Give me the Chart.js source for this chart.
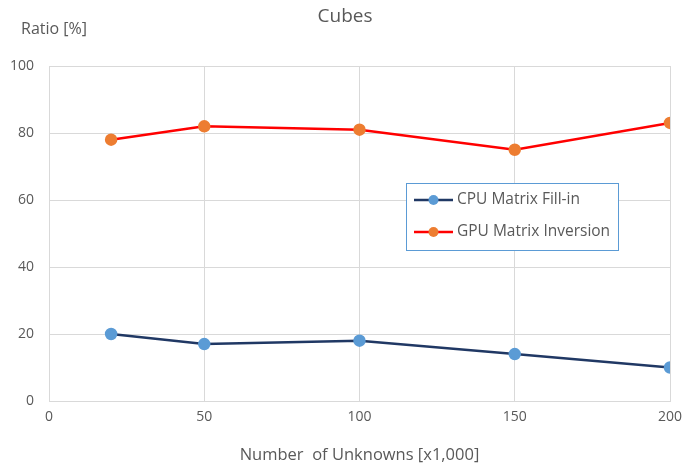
<!DOCTYPE html>
<html>
<head>
<meta charset="utf-8">
<script src="https://cdn.jsdelivr.net/npm/chart.js@4/dist/chart.umd.min.js"></script>
<style>
  html, body { margin: 0; padding: 0; background: #fff; }
  #wrap { width: 682px; height: 465px; position: relative; }
</style>
</head>
<body>
<div id="wrap"><canvas id="c"></canvas></div>
<script>
// Problem sizes (thousands of unknowns)
const unknowns = [20, 50, 100, 150, 200];
// Share of run time, percent
const cpuFillIn = [20, 17, 18, 14, 10];
const gpuInversion = [78, 82, 81, 75, 83];
const seriesNames = ['CPU Matrix Fill-in', 'GPU Matrix Inversion'];
const xTicks = [0, 50, 100, 150, 200];
const yTicks = [0, 20, 40, 60, 80, 100];

const FONT = '"Open Sans", "Liberation Sans", sans-serif';
const TEXT = '#595959';
const GRID = '#d9d9d9';

// Title, y-unit caption and boxed legend drawn on the canvas
const decorations = {
  id: 'decorations',
  afterDraw(chart) {
    const ctx = chart.ctx;
    ctx.save();
    ctx.fillStyle = TEXT;
    ctx.textBaseline = 'middle';
    ctx.textAlign = 'center';
    ctx.font = '19px ' + FONT;
    ctx.fillText('Cubes', 345, 17);
    ctx.textAlign = 'left';
    ctx.font = '16px ' + FONT;
    ctx.fillText('Ratio [%]', 21, 29);

    // legend box
    const bx = 406, by = 183, bw = 212, bh = 67;
    ctx.fillStyle = '#fff';
    ctx.fillRect(bx, by, bw, bh);
    ctx.strokeStyle = '#5b9bd5';
    ctx.lineWidth = 1;
    ctx.strokeRect(bx + 0.5, by + 0.5, bw, bh);
    chart.data.datasets.forEach((ds, i) => {
      const y = by + 17 + i * 32;
      ctx.strokeStyle = ds.borderColor;
      ctx.lineWidth = 2.5;
      ctx.beginPath();
      ctx.moveTo(414, y);
      ctx.lineTo(453, y);
      ctx.stroke();
      ctx.fillStyle = ds.pointBackgroundColor;
      ctx.beginPath();
      ctx.arc(433.5, y, 5, 0, Math.PI * 2);
      ctx.fill();
      ctx.fillStyle = TEXT;
      ctx.font = '15.5px ' + FONT;
      ctx.textAlign = 'left';
      ctx.fillText(ds.label, 457, y);
    });
    ctx.restore();
  }
};

const toPoints = (ys) => unknowns.map((x, i) => ({ x, y: ys[i] }));

new Chart(document.getElementById('c'), {
  type: 'line',
  data: {
    datasets: [
      {
        label: seriesNames[0],
        data: toPoints(cpuFillIn),
        borderColor: '#203864',
        backgroundColor: '#5b9bd5',
        pointBackgroundColor: '#5b9bd5',
        pointBorderColor: '#5b9bd5',
        borderWidth: 2.5,
        pointRadius: 5,
        tension: 0
      },
      {
        label: seriesNames[1],
        data: toPoints(gpuInversion),
        borderColor: '#ff0000',
        backgroundColor: '#ed7d31',
        pointBackgroundColor: '#ed7d31',
        pointBorderColor: '#ed7d31',
        borderWidth: 2.5,
        pointRadius: 5,
        tension: 0
      }
    ]
  },
  options: {
    responsive: true,
    maintainAspectRatio: false,
    animation: false,
    devicePixelRatio: 1,
    layout: { padding: { top: 66, right: 12, bottom: 0, left: 0 } },
    plugins: {
      legend: { display: false },
      title: { display: false },
      tooltip: { enabled: false }
    },
    scales: {
      x: {
        type: 'linear',
        min: 0,
        max: 200,
        afterBuildTicks(axis) { axis.ticks = xTicks.map(v => ({ value: v })); },
        afterFit(axis) {
          axis.height = 64;
          axis.paddingLeft = 0;
          axis.paddingRight = 0;
        },
        grid: { color: GRID, lineWidth: 1, drawTicks: false },
        border: { color: GRID, width: 1 },
        ticks: { color: TEXT, font: { family: FONT, size: 14 }, padding: 8, maxRotation: 0 },
        title: {
          display: true,
          text: 'Number  of Unknowns [x1,000]',
          color: TEXT,
          font: { family: FONT, size: 16.5 },
          padding: { top: 1, bottom: 0 }
        }
      },
      y: {
        min: 0,
        max: 100,
        afterBuildTicks(axis) { axis.ticks = yTicks.map(v => ({ value: v })); },
        afterFit(axis) { axis.width = 49; },
        grid: { color: GRID, lineWidth: 1, drawTicks: false },
        border: { display: false },
        ticks: { color: TEXT, font: { family: FONT, size: 14 }, padding: 15 }
      }
    }
  },
  plugins: [decorations]
});
</script>
</body>
</html>
